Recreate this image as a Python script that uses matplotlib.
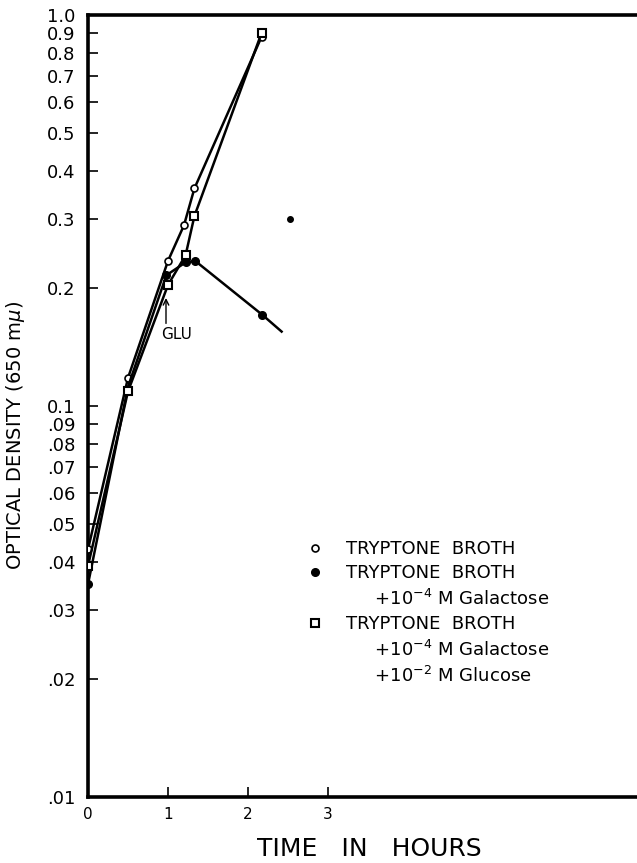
import matplotlib
matplotlib.use("Agg")
import matplotlib.pyplot as plt
from matplotlib.lines import Line2D

# time (hours) and optical density
t_broth = [0.0, 0.5, 1.0, 1.2, 1.33, 2.17]
od_broth = [0.043, 0.118, 0.235, 0.29, 0.36, 0.88]

t_gal = [0.0, 0.5, 0.98, 1.22, 1.34, 2.18, 2.42]
od_gal = [0.035, 0.112, 0.216, 0.233, 0.235, 0.171, 0.155]
gal_marked = [0, 2, 3, 4, 5]

t_glu = [0.0, 0.5, 1.0, 1.22, 1.33, 2.17]
od_glu = [0.039, 0.109, 0.204, 0.243, 0.306, 0.90]

t_stray = [2.53]
od_stray = [0.30]

y_ticks = [1.0, 0.9, 0.8, 0.7, 0.6, 0.5, 0.4, 0.3, 0.2,
           0.1, 0.09, 0.08, 0.07, 0.06, 0.05, 0.04, 0.03, 0.02, 0.01]
y_labels = ["1.0", "0.9", "0.8", "0.7", "0.6", "0.5", "0.4", "0.3", "0.2",
            "0.1", ".09", ".08", ".07", ".06", ".05", ".04", ".03", ".02", ".01"]
x_ticks = [0, 1, 2, 3]
x_labels = ["0", "1", "2", "3"]

legend_labels = [
    "TRYPTONE  BROTH",
    "TRYPTONE  BROTH",
    "     +10$^{-4}$ M Galactose",
    "TRYPTONE  BROTH",
    "     +10$^{-4}$ M Galactose",
    "     +10$^{-2}$ M Glucose",
]

fig = plt.figure(figsize=(6.37, 8.63), dpi=100)
ax = fig.add_axes([88 / 637, 66 / 863, 562 / 637, 782 / 863])

lw = 1.8
ax.plot(t_broth, od_broth, color="black", lw=lw, marker="o", ms=5,
        mfc="white", mec="black", mew=1.2, zorder=3)
ax.plot(t_gal, od_gal, color="black", lw=lw, marker="o", ms=5.5,
        mfc="black", mec="black", markevery=gal_marked, zorder=3)
ax.plot(t_glu, od_glu, color="black", lw=lw, marker="s", ms=6,
        mfc="white", mec="black", mew=1.5, zorder=4)
ax.plot(t_stray, od_stray, ls="none", marker="o", ms=4, color="black")

ax.set_yscale("log")
ax.set_ylim(0.01, 1.0)
ax.set_xlim(0, 562 / 80)
ax.minorticks_off()
ax.set_yticks(y_ticks, y_labels)
ax.set_xticks(x_ticks, x_labels)
ax.tick_params(direction="in", length=7, width=1.2, labelsize=13, pad=9)
ax.tick_params(axis="x", labelsize=11, pad=7)

for side in ["left", "top", "bottom"]:
    ax.spines[side].set_linewidth(2.6)
ax.spines["right"].set_visible(False)

ax.set_xlabel("TIME   IN   HOURS", fontsize=18, labelpad=11)
ax.set_ylabel("OPTICAL DENSITY (650 m$\\mu$)", fontsize=14)
ax.yaxis.set_label_coords(-0.108, 0.462)

ax.annotate("", xy=(0.975, 0.192), xytext=(0.975, 0.16),
            arrowprops=dict(arrowstyle="->", color="black", lw=1.0))
ax.text(1.11, 0.152, "GLU", fontsize=11, ha="center", va="center")

blank = Line2D([], [], ls="none", marker="none")
handles = [
    Line2D([], [], ls="none", marker="o", ms=5, mfc="white", mec="black", mew=1.2),
    Line2D([], [], ls="none", marker="o", ms=5.5, color="black"),
    blank,
    Line2D([], [], ls="none", marker="s", ms=5.5, mfc="white", mec="black", mew=1.5),
    blank,
    blank,
]
ax.legend(handles, legend_labels, loc="upper left",
          bbox_to_anchor=(0.372, 0.340), frameon=False, fontsize=13,
          handlelength=1.0, handletextpad=1.2, labelspacing=0.35,
          borderpad=0)

fig.savefig("out.png", dpi=100)
